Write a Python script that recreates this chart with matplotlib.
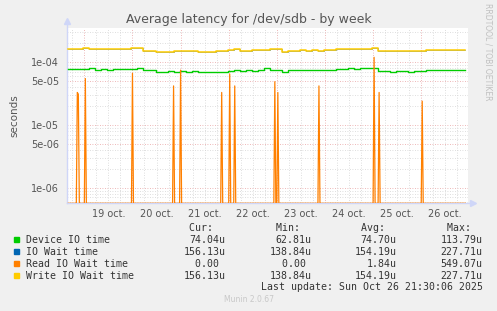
# -*- coding: utf-8 -*-
import numpy as np
import matplotlib
matplotlib.use("Agg")
import matplotlib.pyplot as plt
from matplotlib.patches import Rectangle
from datetime import datetime, timedelta

# 3-hourly samples starting 18 oct 16:00 (microseconds)
device_us = [77, 78, 77, 78, 80, 74, 77, 76, 77, 78,
             77, 79, 80, 75, 75, 71, 71, 72, 71, 72,
             71, 72, 71, 70, 71, 70, 71, 72, 74, 73,
             74, 73, 74, 80, 74, 75, 71, 74, 75, 74,
             75, 74, 75, 74, 75, 77, 77, 80, 79, 80,
             80, 80, 73, 72, 71, 72, 72, 71, 72, 72,
             75, 75, 76, 75, 75, 76, 75]
write_us = [161, 162, 165, 166, 163, 161, 162, 160, 161, 162,
            163, 169, 171, 153, 154, 146, 147, 146, 151, 150,
            150, 149, 146, 147, 147, 153, 152, 158, 163, 153,
            154, 159, 158, 157, 160, 165, 148, 149, 154, 155,
            154, 155, 154, 155, 156, 161, 160, 164, 165, 164,
            165, 172, 152, 149, 150, 149, 150, 151, 150, 151,
            156, 157, 155, 158, 157, 156, 157]
iowait_us = list(write_us)

# read IO wait is zero except for short spikes (30 min samples)
read_spike_times = ["2025-10-18 20:30", "2025-10-18 21:00", "2025-10-19 00:30",
                    "2025-10-20 00:00", "2025-10-20 20:30", "2025-10-21 00:00",
                    "2025-10-21 20:30", "2025-10-22 00:30", "2025-10-22 03:00",
                    "2025-10-22 23:00", "2025-10-23 00:30", "2025-10-23 21:00",
                    "2025-10-25 00:30", "2025-10-25 03:00", "2025-10-26 00:30"]
read_spike_us = [33, 31, 55, 67, 42, 75, 33, 65, 42, 49, 33, 42, 120, 33, 24]

day_labels = ["19 oct.", "20 oct.", "21 oct.", "22 oct.",
              "23 oct.", "24 oct.", "25 oct.", "26 oct."]
ytick_vals = [1e-6, 5e-6, 1e-5, 5e-5, 1e-4]
ytick_labels = ["1e-06", "5e-06", "1e-05", "5e-05", "1e-04"]

legend_names = ["Device IO time", "IO Wait time", "Read IO Wait time", "Write IO Wait time"]
legend_colors = ["#00CC00", "#0066B3", "#FF8000", "#FFCC00"]
cur_txt = ["74.04u", "156.13u", "0.00 ", "156.13u"]
min_txt = ["62.81u", "138.84u", "0.00 ", "138.84u"]
avg_txt = ["74.70u", "154.19u", "1.84u", "154.19u"]
max_txt = ["113.79u", "227.71u", "549.07u", "227.71u"]

W, H = 497, 311
BG = "#F0F0F0"


def fx(px):
    return px / W


def fy(py):
    return 1 - py / H


def plotGraph():
    t0 = datetime(2025, 10, 18, 16, 0)
    t_3h = [t0 + timedelta(hours=3 * i) for i in range(len(device_us))]
    t_30m = [t0 + timedelta(minutes=30 * i) for i in range(397)]
    read_us = np.zeros(len(t_30m))
    for ts, v in zip(read_spike_times, read_spike_us):
        read_us[t_30m.index(datetime.strptime(ts, "%Y-%m-%d %H:%M"))] = v

    ymin, ymax = 5.64e-7, 3.56e-4
    xmin, xmax = datetime(2025, 10, 18, 15, 30), datetime(2025, 10, 26, 23, 20)

    fig = plt.figure(figsize=(W / 100, H / 100), dpi=100, facecolor=BG)
    ax = fig.add_axes([fx(67.3), fy(203.3), fx(468) - fx(67.3), fy(27.7) - fy(203.3)])
    ax.set_facecolor("white")
    ax.set_yscale("log")
    ax.set_ylim(ymin, ymax)
    ax.set_xlim(xmin, xmax)

    # grid
    dot = (0, (1, 2))
    for dec in [1e-7, 1e-6, 1e-5, 1e-4]:
        for s in range(1, 10):
            v = dec * s
            if v < ymin or v > ymax:
                continue
            major = any(abs(v - m) < m * 1e-6 for m in ytick_vals)
            ax.axhline(v, color="#E8A0A0" if major else "#D4D4D4", lw=0.6, ls=dot, zorder=0)
    t = datetime(2025, 10, 18, 18, 0)
    while t < xmax:
        ax.axvline(t, color="#E8A0A0" if t.hour == 0 else "#D4D4D4", lw=0.6, ls=dot, zorder=0)
        t += timedelta(hours=6)

    # data
    ax.plot(t_3h, np.array(device_us) * 1e-6, color=legend_colors[0], lw=1.0, drawstyle="steps-mid", zorder=3)
    ax.plot(t_3h, np.array(iowait_us) * 1e-6, color=legend_colors[1], lw=0.4, drawstyle="steps-mid", zorder=2)
    ax.plot(t_30m, np.clip(read_us * 1e-6, ymin, None), color=legend_colors[2], lw=0.9, zorder=3)
    ax.plot(t_3h, np.array(write_us) * 1e-6, color=legend_colors[3], lw=1.1, drawstyle="steps-mid", zorder=4)

    # ticks
    ax.set_yticks(ytick_vals)
    ax.set_yticklabels(ytick_labels)
    ax.yaxis.set_minor_locator(matplotlib.ticker.NullLocator())
    noons = [datetime(2025, 10, 19 + i, 12, 0) for i in range(len(day_labels))]
    ax.set_xticks(noons)
    ax.set_xticklabels(day_labels)
    ax.tick_params(axis="both", length=0, labelsize=7, colors="#555555")
    ax.tick_params(axis="y", pad=6)
    ax.tick_params(axis="x", pad=4)
    ax.set_ylabel("seconds", fontsize=7.5, color="#555555", labelpad=8)
    for sp in ax.spines.values():
        sp.set_visible(False)

    # axes with arrows
    axc = "#CFD6F8"
    ax.plot([0, 0], [0, 1.035], transform=ax.transAxes, color=axc, lw=1, clip_on=False, zorder=1)
    ax.plot([0], [1.04], transform=ax.transAxes, marker="^", color=axc, ms=5, clip_on=False)
    ax.plot([0, 1.01], [0, 0], transform=ax.transAxes, color=axc, lw=1, clip_on=False, zorder=1)
    ax.plot([1.012], [0], transform=ax.transAxes, marker=">", color=axc, ms=5, clip_on=False)

    fig.text(0.5, fy(19), "Average latency for /dev/sdb - by week", ha="center", va="center",
             fontsize=9, color="#555555")
    fig.text(fx(488), fy(52), "RRDTOOL / TOBI OETIKER", rotation=270, ha="center", va="center",
             fontsize=5.5, color="#C0C0C0")

    # legend
    mono = dict(family="DejaVu Sans Mono", fontsize=7.1, color="#333333", va="center")
    fig.text(fx(225.3), fy(228.3), "Cur:  ", ha="right", **mono)
    fig.text(fx(311.7), fy(228.3), "Min:  ", ha="right", **mono)
    fig.text(fx(396.7), fy(228.3), "Avg:  ", ha="right", **mono)
    fig.text(fx(482.7), fy(228.3), "Max:  ", ha="right", **mono)
    for i, name in enumerate(legend_names):
        py = 239.7 + 12 * i
        fig.add_artist(Rectangle((fx(14), fy(py + 2.7)), 5.3 / W, 5.3 / H,
                                 transform=fig.transFigure, color=legend_colors[i]))
        fig.text(fx(26.3), fy(py), name, ha="left", **mono)
        fig.text(fx(225.3), fy(py), cur_txt[i], ha="right", **mono)
        fig.text(fx(311.7), fy(py), min_txt[i], ha="right", **mono)
        fig.text(fx(396.7), fy(py), avg_txt[i], ha="right", **mono)
        fig.text(fx(482.7), fy(py), max_txt[i], ha="right", **mono)
    fig.text(fx(482.7), fy(287.3), "Last update: Sun Oct 26 21:30:06 2025", ha="right", **mono)
    fig.text(0.5, fy(300), "Munin 2.0.67", ha="center", va="center", fontsize=5.5, color="#C8C8C8")

    fig.savefig("out.png", dpi=100, facecolor=BG)
    plt.close(fig)


if __name__ == "__main__":
    plotGraph()
